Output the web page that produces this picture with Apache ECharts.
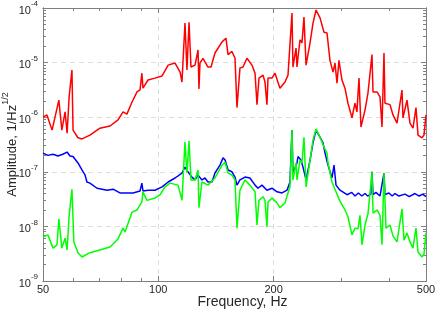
<!DOCTYPE html>
<html><head><meta charset="utf-8">
<script src="https://cdn.jsdelivr.net/npm/echarts@6/dist/echarts.min.js"></script>
<style>html,body{margin:0;padding:0;background:#fff}#c{width:436px;height:311px}</style>
</head><body><div id="c"></div>
<script>
// Frequencies (Hz) and amplitudes (1/Hz^1/2)
const redF=[50,51.2,52.8,55.0,56.0,57.1,57.8,58.5,59.5,59.9,61.7,63.2,66.3,70.4,74.8,78.5,80.9,82.8,85.4,88.0,89.6,90.6,91.2,94.0,98.0,102.3,106.1,110.6,114.0,115.3,117.4,118.8,120.3,121.7,124.7,127.0,127.7,128.5,130.8,134.8,137.3,140.6,146.7,150.2,152.1,155.7,158.6,160.5,163.4,166.4,170.4,175.6,178.9,181.0,183.2,187.7,189.9,192.2,193.4,198.1,201.7,207.8,214.2,218.1,223.4,224.7,228.9,230.2,234.4,237.2,240.1,243.1,249.0,253.5,258.1,264.4,270.8,275.7,280.7,285.9,289.3,292.8,296.3,301.7,307.2,312.8,320.4,326.2,330.1,334.2,338.2,346.5,352.8,361.4,363.6,372.4,379.2,383.8,388.4,390.7,402.7,410.0,420.0,432.8,435.4,446.0,454.1,462.4,470.8,476.6,488.1,494.0,500];
const redA=[1.0e-6,1.1e-6,5.8e-7,2.06e-6,5.8e-7,1.25e-6,5.1e-7,2.35e-6,7.3e-6,5.8e-7,4.2e-7,4.0e-7,4.7e-7,6.3e-7,6.9e-7,8.9e-7,1.25e-6,1.14e-6,1.9e-6,2.9e-6,3.15e-6,6.4e-6,3.4e-6,4.8e-6,5.2e-6,5.7e-6,9.0e-6,9.8e-6,6.7e-6,4.4e-6,5.3e-5,7.3e-6,5.5e-5,8.3e-6,9.0e-6,1.7e-5,3.3e-6,9.8e-6,1.2e-5,8.3e-6,8.3e-6,1.5e-5,2.4e-5,2.8e-5,1.4e-5,1.6e-5,1.2e-5,1.5e-6,8.0e-6,8.3e-6,1.2e-5,9.0e-6,6.4e-6,1.7e-6,5.2e-6,5.9e-6,4.4e-6,1.7e-6,5.2e-6,5.2e-6,6.4e-6,3.4e-6,4.4e-6,5.9e-6,8.1e-5,8.3e-6,1.85e-5,8.3e-6,2.6e-5,2.3e-5,6.8e-5,9.0e-6,2.3e-5,5.3e-5,9.2e-5,6.6e-5,3.6e-5,3.5e-5,1.1e-5,6.7e-6,9.8e-6,4.2e-6,1.1e-5,4.8e-6,3.4e-6,1.8e-6,9.7e-7,1.8e-6,1.25e-6,5.2e-6,6.6e-7,1.35e-6,2.8e-6,1.4e-5,2.9e-6,2.9e-6,2.35e-6,6.6e-7,1.5e-5,1.8e-6,1.7e-6,1.1e-6,7.8e-7,3.15e-6,9.7e-7,2.06e-6,7.8e-7,6.3e-7,1.5e-6,4.7e-7,4.2e-7,4.7e-7,1.1e-6];

const blueF=[50,51.5,53.1,54.7,56.3,57.8,58.8,59.9,61.7,63.2,64.4,65.1,66.3,69.2,73.5,76.2,79.4,85.9,89.6,90.6,91.2,94.0,98.0,102.3,106.1,110.6,115.3,117.4,119.5,122.4,124.7,127.0,130.0,132.4,134.8,138.1,140.6,144.9,147.6,149.4,152.1,155.7,158.6,160.5,163.4,168.4,173.5,178.9,182.1,186.5,192.2,198.1,204.2,210.4,216.8,220.7,223.4,224.7,230.2,231.6,235.8,238.7,243.1,249.0,253.5,258.1,264.4,269.2,272.5,277.4,284.1,287.6,291.1,298.1,311.0,320.0,326.2,333.0,340.0,346.5,352.0,359.0,361.4,363.6,370.0,379.2,388.4,390.7,400.0,408.0,415.0,425.0,440.7,452.0,468.0,480.0,490.0,500];
const blueA=[2.2e-7,2.0e-7,2.1e-7,1.95e-7,2.1e-7,2.3e-7,1.95e-7,1.9e-7,1.45e-7,1.08e-7,8.7e-8,6.5e-8,6.2e-8,5.0e-8,4.6e-8,4.8e-8,4.1e-8,4.1e-8,4.45e-8,6.2e-8,4.45e-8,4.6e-8,4.6e-8,5.3e-8,6.5e-8,7.7e-8,9.5e-8,1.22e-7,1.0e-7,8.0e-8,7.1e-8,8.7e-8,7.1e-8,7.7e-8,6.5e-8,6.5e-8,9.5e-8,1.33e-7,1.8e-7,1.64e-7,1.08e-7,1.0e-7,8.0e-8,5.7e-8,7.1e-8,8.0e-8,7.7e-8,5.7e-8,5.0e-8,5.7e-8,4.6e-8,5.0e-8,4.3e-8,4.1e-8,4.6e-8,6.5e-8,5.8e-7,9.5e-8,1.45e-7,1.9e-7,1.64e-7,1.22e-7,7.1e-8,1.64e-7,3.4e-7,5.8e-7,4.3e-7,3.4e-7,2.2e-7,1.33e-7,7.7e-8,1.33e-7,5.7e-8,4.6e-8,3.8e-8,4.2e-8,3.6e-8,4.1e-8,3.6e-8,4.0e-8,3.6e-8,3.9e-8,1.0e-7,3.8e-8,4.2e-8,3.6e-8,9.5e-8,3.8e-8,4.1e-8,3.6e-8,4.0e-8,3.6e-8,3.9e-8,3.5e-8,4.0e-8,3.6e-8,3.9e-8,3.5e-8];

const greenF=[50,51.5,53.1,54.4,55.0,56.0,57.1,57.8,58.5,59.5,60.2,61.7,63.2,66.3,70.4,74.8,78.5,80.9,81.9,85.4,88.0,90.6,91.2,93.4,98.0,101.1,104.1,107.3,112.6,115.3,117.4,118.8,120.3,121.7,124.7,127.0,127.7,130.0,134.8,140.6,146.7,149.4,152.1,155.7,158.6,160.5,163.4,168.4,173.5,178.9,181.0,183.2,187.7,189.9,192.2,193.4,198.1,204.2,207.8,214.2,218.1,220.7,223.4,224.7,228.9,230.2,234.4,237.2,240.1,243.1,249.0,253.5,258.1,264.4,270.8,275.7,277.4,284.1,291.1,298.1,307.2,312.8,320.4,326.2,332.2,336.2,340.3,346.5,352.8,361.4,363.6,372.4,379.2,383.8,388.4,393.1,402.7,410.0,420.0,432.8,438.1,446.0,454.1,462.4,470.8,476.6,488.1,494.0,500];
const greenA=[6.4e-9,7.0e-9,4.0e-9,4.6e-9,1.37e-8,4.0e-9,6.1e-9,3.7e-9,1.55e-8,4.8e-8,5.2e-9,3.3e-9,2.75e-9,3.3e-9,3.7e-9,4.2e-9,5.9e-9,9.3e-9,7.9e-9,1.83e-8,2.0e-8,2.8e-8,4.3e-8,3.0e-8,3.3e-8,3.8e-8,5.3e-8,6.2e-8,5.7e-8,3.0e-8,3.5e-7,9.5e-8,3.7e-7,7.1e-8,7.1e-8,1.08e-7,2.2e-8,6.5e-8,5.7e-8,7.7e-8,1.33e-7,1.5e-7,9.5e-8,8.7e-8,7.1e-8,9.3e-9,4.6e-8,7.1e-8,5.7e-8,4.3e-8,1.06e-8,3.0e-8,3.5e-8,3.0e-8,9.8e-9,2.8e-8,3.3e-8,2.7e-8,2.2e-8,2.7e-8,4.1e-8,5.3e-8,5.8e-7,7.1e-8,1.45e-7,7.1e-8,1.64e-7,1.45e-7,4.3e-7,5.3e-8,1.64e-7,3.8e-7,6.1e-7,4.3e-7,2.85e-7,2.2e-7,1.45e-7,6.5e-8,4.3e-8,2.9e-8,2.0e-8,1.5e-8,7.0e-9,9.3e-9,9.0e-9,1.6e-8,4.6e-9,1.06e-8,1.7e-8,1.0e-7,1.75e-8,2.0e-8,1.6e-8,4.6e-9,9.5e-8,9.3e-9,1.06e-8,6.7e-9,5.2e-9,2.1e-8,5.6e-9,7.6e-9,5.2e-9,4.0e-9,9.3e-9,3.4e-9,2.75e-9,3.1e-9,7.6e-9];

// Tick labels / positions
const xMajorTicks=[50,100,200,500];
const xMinorTicks=[60,70,80,90,300,400];
const yDecades=[-9,-8,-7,-6,-5,-4];
const yMinorMantissas=[2,3,4,5,6,7,8,9];

const lg=Math.log10;
const toXY=(F,A)=>F.map((f,i)=>[lg(f),lg(A[i])]);
const X0=lg(xMajorTicks[0]), X1=lg(xMajorTicks[xMajorTicks.length-1]);
const Y0=yDecades[0], Y1=yDecades[yDecades.length-1];
const xMaj=xMajorTicks.map(lg), xMin=xMinorTicks.map(lg);
const yMin=[];
yDecades.slice(0,-1).forEach(d=>yMinorMantissas.forEach(m=>yMin.push(d+lg(m))));

const FONT='Liberation Sans, Arial, sans-serif';
const AX='#7f7f7f', TXT='#262626';
const split={show:true,lineStyle:{color:'#dcdcdc',type:[5,4],width:1}};

function xA(pos,ticks,len,withLabels){
  const a={type:'value',position:pos,min:X0,max:X1,
    axisLine:{show:true,onZero:false,lineStyle:{color:AX,width:1}},
    axisTick:{show:true,inside:true,length:len,customValues:ticks,lineStyle:{color:AX,width:1}},
    axisLabel:{show:false},splitLine:{show:false}};
  if(withLabels){
    a.axisLabel={show:true,customValues:xMaj,formatter:v=>String(Math.round(Math.pow(10,v))),
      fontFamily:FONT,fontSize:11,color:TXT,margin:3};
    a.splitLine=split;
    a.name='Frequency, Hz'; a.nameLocation='middle'; a.nameGap=14; a.nameMoveOverlap=false;
    a.nameTextStyle={fontFamily:FONT,fontSize:14,color:TXT,padding:[0,0,0,16]};
  }
  return a;
}
function yA(pos,ticks,len,withLabels){
  const a={type:'value',position:pos,min:Y0,max:Y1,
    axisLine:{show:true,onZero:false,lineStyle:{color:AX,width:1}},
    axisTick:{show:true,inside:true,length:len,lineStyle:{color:AX,width:1}},
    axisLabel:{show:false},splitLine:{show:false}};
  if(ticks) a.axisTick.customValues=ticks; else a.interval=1;
  if(withLabels){
    a.interval=1;
    a.axisLabel={show:true,margin:5,formatter:v=>'{b|10}{s|'+Math.round(v)+'}',
      rich:{b:{fontFamily:FONT,fontSize:11,color:TXT,lineHeight:16,verticalAlign:'bottom'},
            s:{fontFamily:FONT,fontSize:8,color:TXT,lineHeight:16,verticalAlign:'top'}}};
    a.splitLine=split;
    a.name='{a|Amplitude, 1/Hz}{s|1/2}'; a.nameLocation='middle'; a.nameGap=24; a.nameMoveOverlap=false;
    a.nameTextStyle={rich:{a:{fontFamily:FONT,fontSize:13,color:TXT,lineHeight:18,verticalAlign:'bottom'},
                           s:{fontFamily:FONT,fontSize:9,color:TXT,lineHeight:18,verticalAlign:'top'}}};
  }
  return a;
}

const chart=echarts.init(document.getElementById('c'),null,{renderer:'canvas'});
const line=(name,F,A,color)=>({name,type:'line',data:toXY(F,A),showSymbol:false,symbol:'none',
  lineStyle:{color,width:1.5},itemStyle:{color},clip:true,animation:false,silent:true});
chart.setOption({
  animation:false,
  grid:{left:43,right:10,top:8,bottom:30,containLabel:false,outerBoundsMode:'none'},
  xAxis:[xA('bottom',xMaj,5,true),xA('bottom',xMin,3,false),xA('top',xMaj,5,false),xA('top',xMin,3,false)],
  yAxis:[yA('left',null,5,true),yA('left',yMin,3,false),yA('right',null,5,false),yA('right',yMin,3,false)],
  series:[line('red',redF,redA,'#ff0000'),line('blue',blueF,blueA,'#0000ff'),line('green',greenF,greenA,'#00ff00')]
});
</script></body></html>
